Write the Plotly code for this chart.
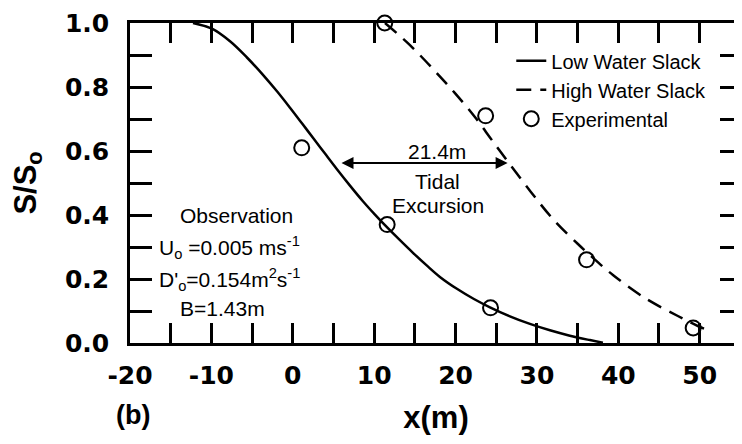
import plotly.graph_objects as go

# ---- data ----
x_low = [-12.26, -9.93, -7.71, -5.63, -3.66, -1.94, -0.34, 1.13, 2.48, 3.96, 5.43, 7.03,
         8.62, 10.10, 11.57, 13.17, 14.77, 16.49, 18.08, 20.17, 22.26, 24.23, 26.68,
         29.14, 31.60, 34.05, 36.51, 38.11]
y_low = [1.0, 0.9822, 0.9428, 0.8922, 0.8381, 0.7866, 0.7353, 0.6866, 0.6413, 0.5919,
         0.5431, 0.4919, 0.4431, 0.4013, 0.3619, 0.3213, 0.2819, 0.2416, 0.2066, 0.1694,
         0.1375, 0.1116, 0.0834, 0.0597, 0.0397, 0.0228, 0.0091, 0.0009]

x_high = [11.33, 14.40, 17.35, 19.93, 22.38, 24.47, 26.56, 29.26, 32.09, 35.04, 36.63,
          39.34, 43.27, 47.32, 50.02, 50.63]
y_high = [1.0, 0.931, 0.853, 0.781, 0.706, 0.634, 0.5625, 0.472, 0.384, 0.3094, 0.2719,
          0.2125, 0.1406, 0.0844, 0.05, 0.0438]

obs_low_x = [1.1, 11.6, 24.3]
obs_low_y = [0.61, 0.37, 0.11]
obs_high_x = [11.3, 23.7, 36.1, 49.2]
obs_high_y = [1.0, 0.71, 0.26, 0.047]

x_tick_vals = [-20, -15, -10, -5, 0, 5, 10, 15, 20, 25, 30, 35, 40, 45, 50]
x_tick_text = ["-20", "", "-10", "", "0", "", "10", "", "20", "", "30", "", "40", "", "50"]
y_tick_vals = [0.0, 0.1, 0.2, 0.3, 0.4, 0.5, 0.6, 0.7, 0.8, 0.9, 1.0]
y_tick_text = ["0.0", "", "0.2", "", "0.4", "", "0.6", "", "0.8", "", "1.0"]

excursion_x = [5.8, 26.4]
excursion_y = 0.5625

FONT = "Liberation Sans, Arial, Helvetica, sans-serif"
TICKFONT = "DejaVu Sans, Liberation Sans, sans-serif"

fig = go.Figure()
fig.add_trace(go.Scatter(x=x_low, y=y_low, mode="lines", name="Low Water Slack",
                         line=dict(color="black", width=2.5, shape="spline", smoothing=1.0)))
fig.add_trace(go.Scatter(x=x_high, y=y_high, mode="lines", name="High Water Slack",
                         line=dict(color="black", width=2.5, dash="15px,9px",
                                   shape="spline", smoothing=1.0)))
fig.add_trace(go.Scatter(x=obs_low_x, y=obs_low_y, mode="markers", name="Experimental",
                         legendgroup="exp", cliponaxis=False,
                         marker=dict(symbol="circle-open", size=15, color="black",
                                     line=dict(width=2, color="black"))))
fig.add_trace(go.Scatter(x=obs_high_x, y=obs_high_y, mode="markers", name="Experimental",
                         legendgroup="exp", showlegend=False, cliponaxis=False,
                         marker=dict(symbol="circle-open", size=15, color="black",
                                     line=dict(width=2, color="black"))))

axis_common = dict(showline=True, linecolor="black", linewidth=2.5, mirror="ticks",
                   ticks="inside", tickcolor="black", tickwidth=2.5,
                   showgrid=False, zeroline=False, automargin=False,
                   tickfont=dict(family=TICKFONT, size=25, color="black", weight="bold"))

fig.update_xaxes(range=[-20, 55.2], tickvals=x_tick_vals, ticktext=x_tick_text,
                 ticklen=20, ticklabelstandoff=8,
                 title=dict(text="x(m)", standoff=18,
                            font=dict(family=FONT, size=31, color="black", weight="bold")),
                 **axis_common)
fig.update_yaxes(range=[0, 1], tickvals=y_tick_vals, ticktext=y_tick_text,
                 ticklen=22, ticklabelstandoff=13,
                 title=dict(text="S/S<sub>o</sub>", standoff=20,
                            font=dict(family=FONT, size=31, color="black", weight="bold")),
                 **axis_common)

ann_font = dict(family=FONT, size=21, color="black")
annotations = [
    dict(x=excursion_x[1], y=excursion_y, ax=excursion_x[0], ay=excursion_y,
         xref="x", yref="y", axref="x", ayref="y", text="", showarrow=True,
         arrowhead=2, arrowside="end+start", arrowsize=1.2, arrowwidth=2, arrowcolor="black"),
    dict(x=17.7, y=0.597, xref="x", yref="y", text="21.4m", showarrow=False, font=ann_font),
    dict(x=17.8, y=0.505, xref="x", yref="y", text="Tidal", showarrow=False, font=ann_font),
    dict(x=17.8, y=0.43, xref="x", yref="y", text="Excursion", showarrow=False, font=ann_font),
    dict(x=-6.9, y=0.397, xref="x", yref="y", text="Observation", showarrow=False, font=ann_font),
    dict(x=-16.7, y=0.297, xref="x", yref="y", xanchor="left",
         text="U<sub>o</sub> =0.005 ms<sup>-1</sup>", showarrow=False, font=ann_font),
    dict(x=-16.7, y=0.197, xref="x", yref="y", xanchor="left",
         text="D'<sub>o</sub>=0.154m<sup>2</sup>s<sup>-1</sup>", showarrow=False, font=ann_font),
    dict(x=-14.1, y=0.109, xref="x", yref="y", xanchor="left",
         text="B=1.43m", showarrow=False, font=ann_font),
    dict(x=0.005, y=-0.225, xref="paper", yref="paper", xanchor="center", yanchor="middle",
         text="(b)", showarrow=False,
         font=dict(family=FONT, size=27, color="black", weight="bold")),
]

# the page body has an 8px margin, so the figure is 8px smaller than the window
fig.update_layout(
    width=734, height=436,
    margin=dict(l=122, r=0, t=15, b=101),
    paper_bgcolor="white", plot_bgcolor="white",
    annotations=annotations,
    legend=dict(x=0.623, y=0.943, xanchor="left", yanchor="top",
                bgcolor="rgba(0,0,0,0)", borderwidth=0, tracegroupgap=0,
                font=dict(family=FONT, size=20, color="black")),
)

fig.write_html("out.html")
